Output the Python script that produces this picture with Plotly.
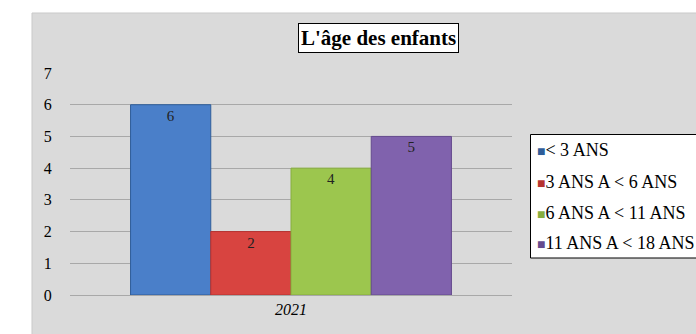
import plotly.graph_objects as go

# Number of children per age bracket in 2021
years = ["2021"]
groups = ["< 3 ANS", "3 ANS A < 6 ANS", "6 ANS A < 11 ANS", "11 ANS A < 18 ANS"]
counts = [6, 2, 4, 5]
fill_colors = ["#4a7fc9", "#d84440", "#9cc64e", "#8062ad"]
edge_colors = ["#2f5d99", "#b63330", "#86ad3e", "#654b8e"]

SERIF = "Liberation Serif, Times New Roman, serif"

# plot area in pixels (left, right, top, bottom)
PL, PR, PT, PB = 70, 512, 73, 295
W, H = 696, 334


def px(x):
    return (x - PL) / (PR - PL)


def py(y):
    return (PB - y) / (PB - PT)


fig = go.Figure()
for name, val, fc, ec in zip(groups, counts, fill_colors, edge_colors):
    fig.add_trace(go.Bar(
        x=years, y=[val], name=name,
        marker=dict(color=fc, line=dict(color=ec, width=1)),
        text=[str(val)], textposition="inside", insidetextanchor="end",
        textfont=dict(family=SERIF, size=15, color="#222222"),
    ))

# boxed key on the right, one line per age bracket
key_rows = [py(y) for y in (150, 182, 213, 243)]
annotations = [dict(
    text="<b>L'âge des enfants</b>", xref="paper", yref="paper",
    x=px(378.5), y=py(38), xanchor="center", yanchor="middle", showarrow=False,
    font=dict(family=SERIF, size=21, color="black"),
    bgcolor="white", bordercolor="black", borderwidth=1, borderpad=2,
)]
for name, fc, ec, yy in zip(groups, fill_colors, edge_colors, key_rows):
    annotations.append(dict(
        text=f"<span style='font-size:14px;color:{ec}'>■</span>{name}",
        xref="paper", yref="paper", x=px(535), y=yy,
        xanchor="left", yanchor="middle", showarrow=False, align="left",
        font=dict(family=SERIF, size=18, color="black"),
    ))

fig.update_layout(
    width=W, height=H,
    margin=dict(l=PL, r=W - PR, t=PT, b=H - PB),
    paper_bgcolor="white", plot_bgcolor="white",
    barmode="group", bargap=0.274, bargroupgap=0,
    showlegend=False,
    font=dict(family=SERIF, color="black"),
    shapes=[
        dict(type="rect", xref="paper", yref="paper", layer="below",
             x0=px(32), x1=px(760), y0=py(360), y1=py(13),
             fillcolor="#dadada", line=dict(color="#c9c9c9", width=1)),
        dict(type="rect", xref="paper", yref="paper", layer="above",
             x0=px(530.5), x1=px(760), y0=py(258), y1=py(134.5),
             fillcolor="white", line=dict(color="black", width=1)),
    ],
    annotations=annotations,
)

fig.update_yaxes(
    range=[0, 7], dtick=1, showgrid=True, gridcolor="#a8a8a8", gridwidth=1,
    zeroline=False, showline=False,
    ticks="outside", ticklen=14, tickcolor="rgba(0,0,0,0)",
    tickfont=dict(family=SERIF, size=16, color="black"),
)
fig.update_xaxes(
    showline=True, linecolor="#a8a8a8", linewidth=1,
    ticks="", tickfont=dict(family=SERIF, size=16, color="black", style="italic"),
)

fig.write_html("out.html")
